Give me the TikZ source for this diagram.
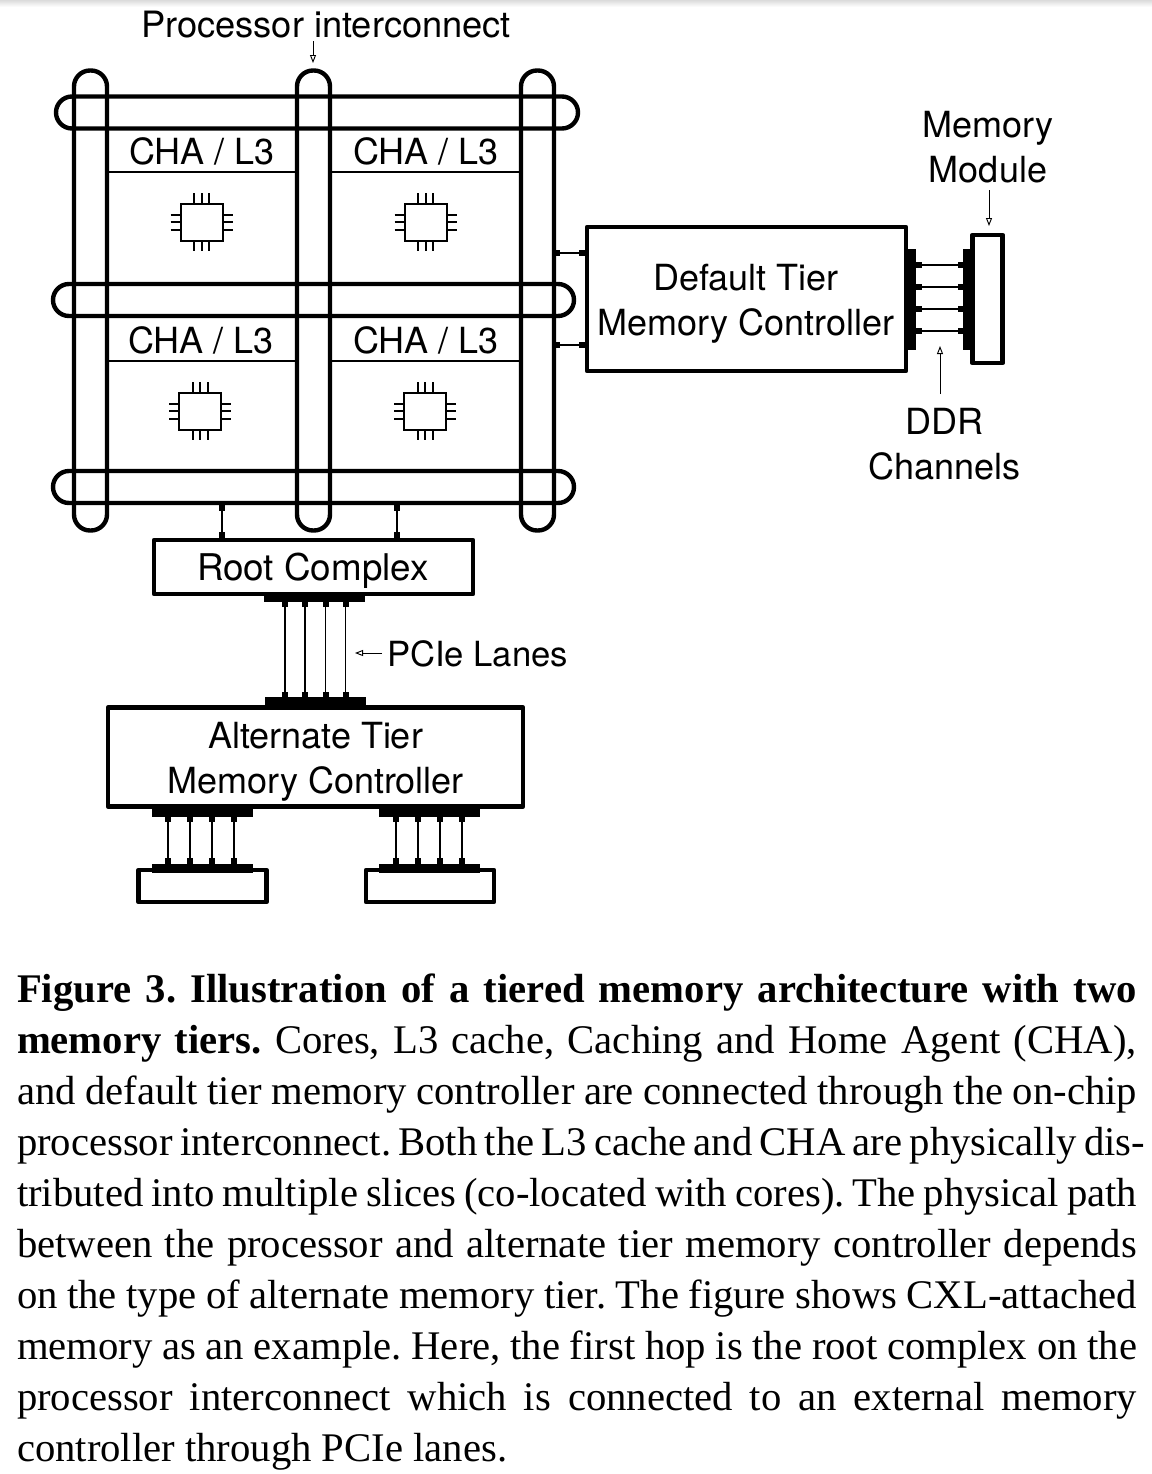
\documentclass[tikz,border=0pt]{standalone}
\usepackage{fontspec}
\setsansfont{TeX Gyre Heros}
\setmainfont{Liberation Serif}
\usetikzlibrary{arrows.meta}
\def\px{0.75pt}
\tikzset{
  every node/.style={inner sep=0pt,outer sep=0pt},
  sanslabel/.style={font=\sffamily\fontsize{27}{33.75}\selectfont,align=center},
  bus/.style={draw,line width=3.3pt,rounded corners=12pt},
  busv/.style={bus,minimum width=33*\px,minimum height=460*\px},
  bush/.style={bus,minimum height=32*\px},
  unitbox/.style={draw,line width=3.4pt,line join=round},
  pad/.style={fill=black,minimum width=101*\px,minimum height=9*\px},
  padv/.style={fill=black,minimum width=8*\px,minimum height=101*\px},
  tick/.style={fill=black,minimum width=6*\px,minimum height=6*\px},
  link/.style={line width=.8pt},
  note/.style={line width=.7pt,-{Triangle[open,length=6pt,width=4.5pt]}},
  chipbox/.style={draw,line width=1.5pt,minimum width=42*\px,minimum height=37*\px},
  pin/.style={line width=1.5pt}
}
\begin{document}
\begin{tikzpicture}[x=\px,y=-\px]
\useasboundingbox (0,0) rectangle (1152,1474);
\shade[top color=black!14,bottom color=white] (0,0) rectangle (1152,7);
% interconnect rings
\node [busv] (ringa) at (90.5,300.5) {};
\node [busv] (ringb) at (313.5,300.5) {};
\node [busv] (ringc) at (537.5,300.5) {};
\node [bush,minimum width=522*\px] (rowa) at (317,112.5) {};
\node [bush,minimum width=521*\px] (rowb) at (313.5,300) {};
\node [bush,minimum width=521*\px] (rowc) at (313.5,487) {};
% core slices
\foreach \cx/\cy/\lx/\nm in {201.5/222/202/p,425.5/222/426/q,200/411/201/r,425/411/426/s}
{
\node [sanslabel] (lab\nm) at (\lx,\cy-70.5) {CHA / L3};
\coordinate (ca\nm) at (\cx-95,\cy-50);
\coordinate (cb\nm) at (\cx+95,\cy-50);
\draw [link,line width=1.2pt] (ca\nm) -- (cb\nm);
\node [chipbox] (chip\nm) at (\cx,\cy) {};
\foreach \d in {-7.5,0,7.5}
{
\draw [pin] (\cx+\d,\cy-29) -- (\cx+\d,\cy-19);
\draw [pin] (\cx+\d,\cy+19) -- (\cx+\d,\cy+29);
\draw [pin] (\cx-31,\cy+\d) -- (\cx-21,\cy+\d);
\draw [pin] (\cx+21,\cy+\d) -- (\cx+31,\cy+\d);
}
}
\node [sanslabel,font=\sffamily\fontsize{27.2}{33.75}\selectfont] (proc) at (326,25) {Processor interconnect};
\coordinate (procend) at (313,63);
\draw [note] (313,41) -- (procend);
% default tier
\node [unitbox,minimum width=319*\px,minimum height=144*\px] (dtier) at (746.5,299) {};
\node [sanslabel] (dtierlab) at (746,304) {Default Tier\\Memory Controller};
\node [unitbox,minimum width=30.5*\px,minimum height=128*\px] (module) at (987.5,299) {};
\node [padv] (dpada) at (912,299.5) {};
\node [padv] (dpadb) at (966.5,299.5) {};
\foreach \y [count=\i] in {265,287,309,331}
{
\node [tick] (dl\i) at (918.5,\y) {};
\node [tick] (dr\i) at (961,\y) {};
\draw [link] (dl\i) -- (dr\i);
}
\foreach \y [count=\i] in {253,345}
{
\node [tick] (ml\i) at (557,\y) {};
\node [tick] (mr\i) at (582,\y) {};
\draw [link] (ml\i) -- (mr\i);
}
\node [sanslabel] (modlab) at (988,147) {Memory\\Module};
\draw [note] (989,190) -- (989,226);
\node [sanslabel] (ddrlab) at (944.5,444) {DDR\\Channels};
\draw [note] (940,394) -- (940,346);
% root complex
\node [unitbox,minimum width=319*\px,minimum height=54*\px] (root) at (313.5,567) {};
\node [sanslabel,font=\sffamily\fontsize{27.6}{33.75}\selectfont] (rootlab) at (313,571) {Root Complex};
\foreach \x [count=\i] in {222,397}
{
\node [tick] (ru\i) at (\x,508) {};
\node [tick] (rd\i) at (\x,535) {};
\draw [link] (ru\i) -- (rd\i);
}
\node [pad] (rpad) at (314.5,597.5) {};
\node [unitbox,minimum width=415*\px,minimum height=99*\px] (alt) at (315.5,757) {};
\node [sanslabel] (altlab) at (315.5,762) {Alternate Tier\\Memory Controller};
\node [pad] (apad) at (315.5,701.5) {};
\foreach \x [count=\i] in {285,305,325.5,345.5}
{
\node [tick] (pu\i) at (\x,604) {};
\node [tick] (pd\i) at (\x,694.5) {};
\draw [link] (pu\i) -- (pd\i);
}
\coordinate (lanes) at (355,653);
\draw [note] (382,653) -- (lanes);
\node [sanslabel,anchor=west,font=\sffamily\fontsize{26}{33.75}\selectfont] (laneslab) at (387,654) {PCIe Lanes};
% memory devices
\node [unitbox,minimum width=128*\px,minimum height=32*\px] (deva) at (202.5,886) {};
\node [unitbox,minimum width=128*\px,minimum height=32*\px] (devb) at (430,886) {};
\foreach \nm/\cx/\dx in {a/202.5/-34.5,b/429.5/-33.5}
{
\node [pad] (top\nm) at (\cx,812.5) {};
\node [pad] (bot\nm) at (\cx,868) {};
\foreach \d [count=\i] in {0,22,44,66}
{
\node [tick] (u\nm\i) at (\cx+\dx+\d,819) {};
\node [tick] (l\nm\i) at (\cx+\dx+\d,860.5) {};
\draw [link] (u\nm\i) -- (l\nm\i);
}
}
\node [anchor=north west,text width=1120*\px,align=justify,font=\fontsize{30.5}{38.25}\selectfont\frenchspacing] (caption) at (17,974) {\textbf{Figure 3. Illustration of a tiered memory architecture with two\linebreak memory tiers.} Cores, L3 cache, Caching and Home Agent (CHA),\linebreak and default tier memory controller are connected through the on-chip\linebreak \makebox[846pt][s]{\spaceskip=.16em plus .2em minus .02em processor interconnect. Both the L3 cache and CHA are physically dis-}\hss\linebreak tributed into multiple slices (co-located with cores). The physical path\linebreak between the processor and alternate tier memory controller depends\linebreak on the type of alternate memory tier. The figure shows CXL-attached\linebreak memory as an example. Here, the first hop is the root complex on the\linebreak processor interconnect which is connected to an external memory\linebreak controller through PCIe lanes.};
\end{tikzpicture}
\end{document}
